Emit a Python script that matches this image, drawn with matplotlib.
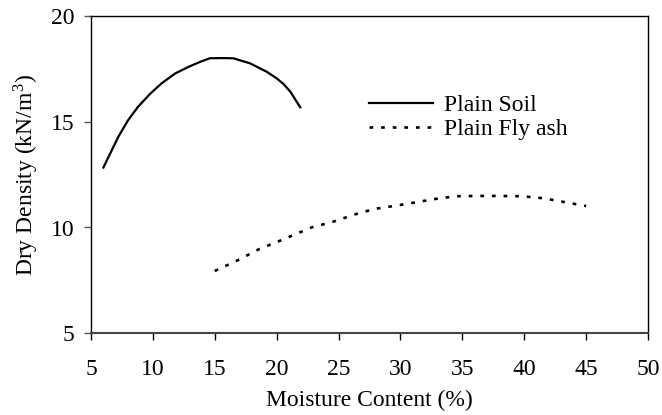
import matplotlib
matplotlib.use("Agg")
import matplotlib.pyplot as plt

# values
soil_moisture = [6.0, 7.2, 8.0, 8.8, 9.8, 10.7, 11.8, 12.9, 13.9, 14.6, 15.5, 16.5,
                 17.85, 19.2, 20.0, 20.55, 21.1, 21.9]
soil_density = [12.84, 14.29, 15.09, 15.72, 16.35, 16.83, 17.30, 17.62, 17.87, 18.02,
                18.03, 18.02, 17.78, 17.38, 17.07, 16.80, 16.44, 15.70]

ash_moisture = [15.0, 16.9, 18.6, 20.3, 22.8, 24.6, 26.2, 27.9, 29.7, 32.9, 34.5,
                37.0, 39.9, 41.5, 45.0]
ash_density = [7.94, 8.46, 8.98, 9.38, 10.0, 10.28, 10.6, 10.88, 11.04, 11.36, 11.48,
               11.50, 11.48, 11.39, 11.02]

x_ticks = [5, 10, 15, 20, 25, 30, 35, 40, 45, 50]
y_ticks = [5, 10, 15, 20]

plt.rcParams["font.family"] = ["Liberation Serif", "DejaVu Serif"]
plt.rcParams["mathtext.fontset"] = "stix"
fs = 17

fig = plt.figure(figsize=(6.62, 4.15), dpi=100)
ax = fig.add_axes([91 / 662, 1 - 333 / 415, 557 / 662, 316.5 / 415])

ax.plot(soil_moisture, soil_density, color="black", lw=1.6, label="Plain Soil")
ax.plot(ash_moisture, ash_density, color="black", lw=1.9,
        linestyle=(0, (1.4, 3.0)), label="Plain Fly ash")

ax.set_xlim(5, 50)
ax.set_ylim(5, 20)
ax.set_xticks(x_ticks)
ax.set_yticks(y_ticks)
ax.tick_params(axis="x", direction="out", length=5, width=1, pad=14, labelsize=fs)
ax.tick_params(axis="y", direction="out", length=5, width=1, color="#555555",
               pad=7, labelsize=fs)
for s in ax.spines.values():
    s.set_linewidth(1)
ax.spines["bottom"].set_color("#444444")
ax.spines["bottom"].set_linewidth(1.5)

ax.set_xlabel("Moisture Content (%)", fontsize=fs, labelpad=7)
ax.set_ylabel("Dry Density (kN/m$^\\mathregular{3}$)", fontsize=fs, labelpad=7)

ax.legend(loc="upper left", bbox_to_anchor=(0.4776, 0.79), frameon=False,
          fontsize=fs, handlelength=2.7, handletextpad=0.5, borderpad=0,
          labelspacing=0.1)

fig.savefig("out.png", dpi=100)
